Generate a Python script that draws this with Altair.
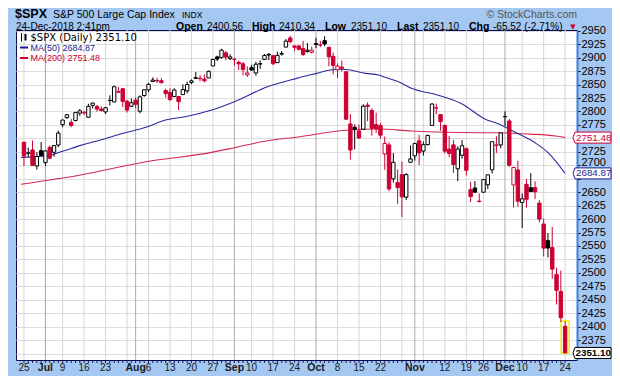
import altair as alt
import pandas as pd

# ---------------- data ----------------
opens = [
    2742.94, 2722.12, 2728.45, 2698.69, 2727.13,
    2704.95, 2733.27, 2724.19, 2737.68,
    2775.62, 2788.56, 2779.82, 2783.14, 2796.93,
    2797.36, 2789.34, 2811.35, 2809.37, 2804.55,
    2799.17, 2820.68, 2817.73, 2835.49, 2842.35,
    2819.00, 2809.73, 2821.17, 2800.48, 2829.62,
    2840.29, 2855.92, 2856.79, 2857.19, 2838.90,
    2835.46, 2827.88, 2827.95, 2831.44, 2838.32,
    2853.93, 2861.51, 2860.99, 2860.29, 2862.35,
    2884.69, 2901.45, 2900.62, 2908.94, 2898.37,
    2896.96, 2891.59, 2888.64, 2868.26,
    2881.39, 2871.57, 2888.29, 2896.85, 2906.38,
    2903.83, 2890.74, 2906.60, 2919.73, 2936.76,
    2921.83, 2921.75, 2916.98, 2911.65, 2910.03,
    2926.29, 2923.80, 2931.69, 2919.35, 2902.54,
    2877.53, 2882.51, 2873.90, 2776.87, 2770.54,
    2763.83, 2767.05, 2811.67, 2802.00, 2775.66,
    2773.94, 2721.03, 2737.87, 2674.88, 2667.86,
    2682.65, 2640.68, 2705.60, 2717.58, 2745.45,
    2726.37, 2738.40, 2774.13, 2806.38, 2794.10,
    2773.93, 2730.05, 2737.90, 2693.52, 2718.54,
    2730.74, 2654.60, 2657.74, 2633.36,
    2649.97, 2663.75, 2691.45, 2736.97, 2737.76,
    2790.50, 2782.43, 2663.51, 2691.26,
    2630.86, 2664.44, 2658.23, 2658.70, 2629.68,
    2590.75, 2559.90, 2547.05, 2496.77, 2465.38,
    2400.56,
]
highs = [
    2742.94, 2732.91, 2746.09, 2724.34, 2743.26,
    2727.26, 2736.58, 2737.83, 2764.41,
    2784.65, 2795.58, 2785.91, 2799.22, 2804.53,
    2801.19, 2814.19, 2816.76, 2812.05, 2809.70,
    2808.61, 2829.99, 2848.03, 2845.57, 2843.17,
    2821.74, 2824.46, 2825.83, 2829.91, 2840.38,
    2853.29, 2863.43, 2862.44, 2862.48, 2842.20,
    2843.40, 2843.11, 2827.95, 2850.49, 2855.63,
    2859.76, 2873.23, 2867.54, 2868.78, 2876.16,
    2898.25, 2903.77, 2916.50, 2912.46, 2906.32,
    2900.18, 2894.21, 2892.05, 2883.81,
    2886.93, 2892.52, 2894.65, 2906.76, 2908.30,
    2904.65, 2911.17, 2912.36, 2934.80, 2940.91,
    2923.79, 2923.95, 2931.15, 2927.22, 2920.53,
    2937.06, 2931.42, 2939.86, 2919.78, 2909.64,
    2889.45, 2894.83, 2874.02, 2795.14, 2775.77,
    2775.99, 2813.46, 2816.94, 2806.04, 2797.77,
    2778.94, 2753.59, 2742.59, 2722.70, 2692.38,
    2706.85, 2685.43, 2736.69, 2741.67, 2756.55,
    2744.27, 2756.82, 2815.15, 2814.75, 2794.10,
    2775.99, 2754.60, 2746.80, 2735.38, 2746.75,
    2733.16, 2669.44, 2670.73, 2647.55,
    2674.35, 2682.53, 2744.00, 2753.75, 2760.88,
    2800.18, 2785.93, 2696.15, 2708.54,
    2647.51, 2674.35, 2685.44, 2670.19, 2635.07,
    2601.13, 2573.99, 2585.29, 2509.63, 2504.41,
    2410.34,
]
lows = [
    2698.67, 2715.60, 2699.38, 2691.99, 2718.03,
    2698.95, 2711.16, 2716.02, 2733.52,
    2770.73, 2786.24, 2770.77, 2781.53, 2791.69,
    2793.39, 2789.24, 2805.89, 2799.77, 2800.01,
    2795.14, 2811.12, 2817.73, 2835.26, 2808.34,
    2798.11, 2808.06, 2805.85, 2796.34, 2827.37,
    2835.98, 2855.92, 2853.09, 2851.98, 2825.81,
    2819.88, 2826.58, 2802.49, 2831.44, 2833.73,
    2850.62, 2861.32, 2856.05, 2854.03, 2862.35,
    2884.69, 2893.50, 2898.40, 2895.22, 2895.77,
    2885.13, 2876.92, 2867.29, 2864.12,
    2875.94, 2866.78, 2879.20, 2896.39, 2895.77,
    2886.16, 2890.43, 2903.82, 2919.73, 2927.11,
    2912.63, 2913.70, 2903.28, 2909.27, 2907.50,
    2917.91, 2919.37, 2921.36, 2883.92, 2869.29,
    2862.08, 2874.27, 2784.86, 2710.51, 2729.44,
    2749.03, 2766.91, 2781.81, 2755.18, 2760.27,
    2749.22, 2691.43, 2651.89, 2667.84, 2628.16,
    2603.54, 2635.34, 2705.60, 2708.85, 2700.44,
    2717.94, 2737.08, 2774.13, 2794.99, 2764.24,
    2722.00, 2714.98, 2685.75, 2670.75, 2712.16,
    2681.09, 2631.52, 2649.82, 2631.09,
    2649.97, 2655.89, 2684.38, 2722.94, 2731.52,
    2773.38, 2697.18, 2621.53, 2623.14,
    2583.23, 2621.30, 2650.26, 2637.27, 2593.84,
    2530.54, 2528.71, 2488.96, 2441.18, 2408.55,
    2351.10,
]
closes = [
    2717.07, 2723.06, 2699.63, 2716.31, 2718.37,
    2726.71, 2713.22, 2736.61, 2759.82,
    2784.17, 2793.84, 2774.02, 2798.29, 2801.31,
    2798.43, 2809.55, 2815.62, 2804.49, 2801.83,
    2806.98, 2820.40, 2846.07, 2837.44, 2818.82,
    2802.60, 2816.29, 2813.36, 2827.22, 2840.35,
    2850.40, 2858.45, 2857.70, 2853.58, 2833.28,
    2821.93, 2839.96, 2818.37, 2840.69, 2850.13,
    2857.05, 2862.96, 2861.82, 2856.98, 2874.69,
    2896.74, 2897.52, 2914.04, 2901.13, 2901.52,
    2896.72, 2888.60, 2878.05, 2871.68,
    2877.13, 2887.89, 2888.92, 2904.18, 2904.98,
    2888.80, 2904.31, 2907.95, 2930.75, 2929.67,
    2919.37, 2915.56, 2905.97, 2914.00, 2913.98,
    2924.59, 2923.43, 2925.51, 2901.61, 2885.57,
    2884.43, 2880.34, 2785.68, 2728.37, 2767.13,
    2750.79, 2809.92, 2809.21, 2768.78, 2767.78,
    2755.88, 2740.69, 2656.10, 2705.57, 2658.69,
    2641.25, 2682.63, 2711.74, 2740.37, 2723.06,
    2738.31, 2755.45, 2813.89, 2806.83, 2781.01,
    2726.22, 2722.18, 2701.58, 2730.20, 2736.27,
    2690.73, 2641.89, 2649.93, 2632.56,
    2673.45, 2682.17, 2743.79, 2737.80, 2760.17,
    2790.37, 2700.06, 2695.95, 2633.08,
    2637.72, 2636.78, 2651.07, 2650.54, 2599.95,
    2545.94, 2546.16, 2506.96, 2467.42, 2416.62,
    2351.10,
]
close_before_first = 2754.88

# moving averages (trading-day index, value)
ma50_i = [-0.7, 5.6, 9.0, 13.2, 17.8, 23.1, 28.4, 33.0, 37.6, 43.7, 49.0, 56.7,
          63.5, 68.1, 71.2, 74.2, 79.6, 82.6, 84.1, 87.2, 90.2, 96.3, 101.7,
          107.8, 110.1, 114.6, 119.2, 122.2, 126.0]
ma50_v = [2714.5, 2718.0, 2726.0, 2737.0, 2746.9, 2759.4, 2770.6, 2784.1, 2790.3,
          2802.7, 2818.1, 2846.0, 2861.6, 2870.9, 2877.0, 2878.4, 2870.9, 2867.8,
          2863.5, 2855.3, 2843.0, 2830.6, 2815.2, 2784.1, 2778.0, 2760.5, 2740.8,
          2722.2, 2684.87]
ma200_i = [-0.7, 13.2, 28.4, 43.7, 49.0, 56.7, 64.3, 71.9, 75.7, 82.6, 90.2,
           105.5, 110.1, 117.7, 123.8, 126.0]
ma200_v = [2664.6, 2681.9, 2706.6, 2724.0, 2732.6, 2745.6, 2753.1, 2762.4, 2765.5,
           2767.4, 2763.7, 2760.5, 2760.5, 2758.0, 2754.4, 2751.48]

# x-axis labels (trading-day index of each label)
tick_idx = [0, 5, 9, 14, 19, 26, 29, 34, 39, 44, 49, 53, 58, 63, 68, 73, 78, 83,
            91, 98, 103, 107, 112, 116, 121, 126]
tick_txt = ["25", "Jul", "9", "16", "23", "Aug", "6", "13", "20", "27", "Sep", "10",
            "17", "24", "Oct", "8", "15", "22", "Nov", "12", "19", "26", "Dec",
            "10", "17", "24"]
months = ["Jul", "Aug", "Sep", "Oct", "Nov", "Dec"]
week_idx = [0, 5, 9, 14, 19, 24, 29, 34, 39, 44, 49, 53, 58, 63, 68, 73, 78, 83,
            88, 93, 98, 103, 107, 112, 116, 121, 126]
month_idx = [5, 26, 49, 68, 91, 112]

y_ticks = list(range(2350, 2951, 25))
y_hidden = [2350, 2675, 2750]  # labels covered by the value tags
y_raised = 2700                # label sitting just above a value tag
tag_vals = [2751.48, 2684.87]
tag_cols = ["#CC0033", "#1C1C8C"]
last_val = 2351.10

# ---------------- styling ----------------
RED = "#CC0033"
NAVY = "#1C1C8C"
BLACK = "#000000"
FONT = "Liberation Sans"
W, H = 561, 330
OX, OY = 16, 30  # plot origin in page pixels

n = len(closes)
prev = [close_before_first] + closes[:-1]
df = pd.DataFrame({"i": list(range(n)), "open": opens, "high": highs,
                   "low": lows, "close": closes})
df["col"] = [BLACK if c >= p else RED for c, p in zip(closes, prev)]
df["fill"] = [col if c < o else "white" for col, c, o in zip(df["col"], closes, opens)]

xs = alt.Scale(domain=[-0.69, 127.6], nice=False, zero=False)
ys = alt.Scale(domain=[2338, 2951.5], nice=False, zero=False)
hide_expr = " || ".join(f"datum.value == {v}" for v in y_hidden)
yax = alt.Axis(orient="right", values=y_ticks, title=None, grid=True,
               gridColor="#DCDCDC", gridWidth=1, labelFont=FONT, labelFontSize=11,
               labelColor="black", tickColor="black", tickSize=3, labelPadding=1,
               domainColor="#3D7EDB", domainWidth=2, format="d", zindex=0,
               labelOverlap=False,
               labelExpr=f"({hide_expr}) ? '' : datum.label",
               labelBaseline={"condition": {"test": f"datum.value == {y_raised}",
                                            "value": "alphabetic"},
                              "value": "middle"})
X = alt.X("i:Q", scale=xs, axis=None)

one = pd.DataFrame({"k": [0]})


def txt(s, x, y, size=11, bold=False, color="black", font=FONT, align="left",
        baseline="alphabetic"):
    return alt.Chart(one).mark_text(
        fontSize=size, fontWeight="bold" if bold else "normal", color=color,
        font=font, align=align, baseline=baseline
    ).encode(x=alt.value(x - OX), y=alt.value(y - OY), text=alt.value(s))


week_only = [w for w in week_idx if w not in month_idx]
vgrid = alt.Chart(pd.DataFrame({"i": week_only})).mark_rule(
    color="#D6D6D6", strokeWidth=1).encode(x=X)
mgrid = alt.Chart(pd.DataFrame({"i": month_idx})).mark_rule(
    color="#ABABAB", strokeWidth=1).encode(x=X)

ma200 = alt.Chart(pd.DataFrame({"i": ma200_i, "v": ma200_v})).mark_line(
    color="#D42850", strokeWidth=1.1, interpolate="monotone").encode(
    x=X, y=alt.Y("v:Q", scale=ys, axis=yax))
ma50 = alt.Chart(pd.DataFrame({"i": ma50_i, "v": ma50_v})).mark_line(
    color="#2A2AA0", strokeWidth=1.1, interpolate="monotone").encode(
    x=X, y=alt.Y("v:Q", scale=ys, axis=yax))

last = alt.Chart(df).transform_filter(f"datum.i == {n-1}").mark_bar(
    size=8, fillOpacity=0, stroke="#F0F000", strokeWidth=1.5).encode(
    x=X, y=alt.Y("low:Q", scale=ys, axis=yax), y2="high:Q")

wicks = alt.Chart(df).mark_rule(strokeWidth=1).encode(
    x=X, y=alt.Y("low:Q", scale=ys, axis=yax), y2="high:Q",
    color=alt.Color("col:N", scale=None))
bodies = alt.Chart(df).mark_bar(size=3.4, strokeWidth=1).encode(
    x=X, y=alt.Y("open:Q", scale=ys, axis=yax), y2="close:Q",
    fill=alt.Fill("fill:N", scale=None), stroke=alt.Stroke("col:N", scale=None))

# day ticks under the plot
dayticks = alt.Chart(df).mark_rule(color="#202050", strokeWidth=1).encode(
    x=X, y=alt.value(H + 1), y2=alt.value(H + 3))

lab = pd.DataFrame({"i": tick_idx, "t": tick_txt})
lab["m"] = [t in months for t in tick_txt]
xl_norm = alt.Chart(lab).transform_filter("!datum.m").mark_text(
    font=FONT, fontSize=10, color="#1A1A1A", baseline="middle").encode(
    x=X, y=alt.value(368 - OY), text="t:N")
xl_bold = alt.Chart(lab).transform_filter("datum.m").mark_text(
    font=FONT, fontSize=10.5, fontWeight="bold", color="#1A1A1A",
    baseline="middle").encode(x=X, y=alt.value(368 - OY), text="t:N")

# value tags on the right (tip at x=573, box 577..612)
TAG = "M -1 0 L -0.895 -0.29 L 1 -0.29 L 1 0.29 L -0.895 0.29 Z"
tags = pd.DataFrame({"v": tag_vals + [last_val], "c": tag_cols + [BLACK],
                     "t": [f"{v:.2f}" for v in tag_vals + [last_val]],
                     "b": [False, False, True]})
tag_box = alt.Chart(tags).mark_point(shape=TAG, size=1444, filled=True,
                                     fill="white", strokeWidth=1, opacity=1).encode(
    x=alt.value(592 - OX), y=alt.Y("v:Q", scale=ys, axis=yax),
    stroke=alt.Stroke("c:N", scale=None))
tag_txt = alt.Chart(tags).transform_filter("!datum.b").mark_text(
    font=FONT, fontSize=9.8, align="left", baseline="middle").encode(
    x=alt.value(576 - OX), y=alt.Y("v:Q", scale=ys, axis=yax), text="t:N",
    color=alt.Color("c:N", scale=None))
tag_txt_b = alt.Chart(tags).transform_filter("datum.b").mark_text(
    font=FONT, fontSize=9.8, fontWeight="bold", align="left", baseline="middle").encode(
    x=alt.value(575.5 - OX), y=alt.Y("v:Q", scale=ys, axis=yax), text="t:N",
    color=alt.Color("c:N", scale=None))

# legend inside the plot
L1, L2, L3 = 37.5, 47.5, 58
icon1 = alt.Chart(one).mark_rule(color="black", strokeWidth=1).encode(
    x=alt.value(21.5 - OX), y=alt.value(L1 - 4.5 - OY), y2=alt.value(L1 + 4 - OY))
icon2 = alt.Chart(one).mark_rule(color="black", strokeWidth=2).encode(
    x=alt.value(25.5 - OX), y=alt.value(L1 - 3.5 - OY), y2=alt.value(L1 + 3 - OY))
dash50 = alt.Chart(one).mark_rule(color=NAVY, strokeWidth=2).encode(
    x=alt.value(20 - OX), x2=alt.value(28 - OX), y=alt.value(L2 - OY))
dash200 = alt.Chart(one).mark_rule(color=RED, strokeWidth=2).encode(
    x=alt.value(20 - OX), x2=alt.value(28 - OX), y=alt.value(L3 - OY))

R1, R2 = 17.5, 29.5  # baselines of the two header rows
texts = [
    txt("$SPX", 15, R1, size=12.5, bold=True),
    txt("S&P 500 Large Cap Index", 53, R1, size=10.5),
    txt("INDX", 182, R1, size=8.5),
    txt("\u00a9 StockCharts.com", 577, R1, size=10.5, color="#555555", align="right"),
    txt("24-Dec-2018 2:41pm", 16, R2, size=10),
    txt("Open", 176, R2, size=10.5, bold=True),
    txt("2400.56", 207, R2, size=10),
    txt("High", 252, R2, size=10.5, bold=True),
    txt("2410.34", 279, R2, size=10),
    txt("Low", 325, R2, size=10.5, bold=True),
    txt("2351.10", 351, R2, size=10),
    txt("Last", 397, R2, size=10.5, bold=True),
    txt("2351.10", 423, R2, size=10),
    txt("Chg", 469, R2, size=10.5, bold=True),
    txt("-65.52 (-2.71%)", 493, R2, size=10),
    txt("\u25bc", 573, R2 - 1, size=7, color=RED, align="center", font="DejaVu Sans"),
    txt("$SPX (Daily) 2351.10", 30.5, L1, size=10, font="DejaVu Sans",
        baseline="middle"),
    txt("MA(50) 2684.87", 30.5, L2, size=9, color=NAVY, baseline="middle"),
    txt("MA(200) 2751.48", 30.5, L3, size=9, color=RED, baseline="middle"),
]

chart = alt.layer(
    vgrid, mgrid, ma200, ma50, last, wicks, bodies, dayticks, xl_norm, xl_bold,
    tag_box, tag_txt, tag_txt_b, icon1, icon2, dash50, dash200, *texts
).properties(
    width=W, height=H,
    padding={"left": 8, "top": 22, "right": 35, "bottom": 16},
    autosize=alt.AutoSizeParams(type="none"),
    background="#A4C8F2",
).configure_view(fill="white", stroke="#0A0A50", strokeWidth=1)

chart.save("out.html", embed_options={"renderer": "svg", "actions": False})
